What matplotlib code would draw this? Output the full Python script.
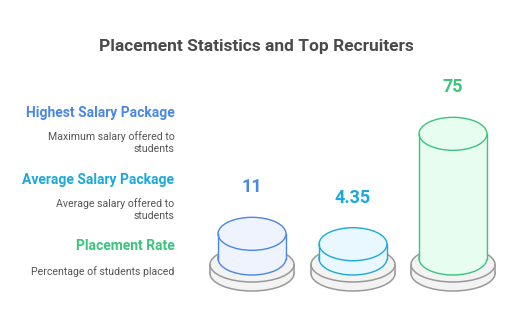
import matplotlib
matplotlib.use("Agg")
import matplotlib.pyplot as plt
from matplotlib.patches import Ellipse, Rectangle

# ---------------------------------------------------------------- data
TITLE = "Placement Statistics and Top Recruiters"
HEADINGS = ["Highest Salary Package", "Average Salary Package", "Placement Rate"]
DESCRIPTIONS = ["Maximum salary offered to\nstudents",
                "Average salary offered to\nstudents",
                "Percentage of students placed"]
VALUES = [11, 4.35, 75]
VALUE_LABELS = ["11", "4.35", "75"]

EDGE_COLORS = ["#4a86e8", "#1ba8dd", "#3cc47c"]
FILL_COLORS = ["#eef3fe", "#e8f8fe", "#e6fdf0"]

plt.rcParams["font.family"] = ["Roboto", "DejaVu Sans"]

W, H = 512, 315
fig = plt.figure(figsize=(W / 100, H / 100), dpi=100)
ax = fig.add_axes([0, 0, 1, 1])
ax.set_xlim(0, W)
ax.set_ylim(H, 0)
ax.axis("off")

# layout (pixel units)
CYL_X = [252, 353, 453]
CYL_HALF_W = 34
CYL_HALF_H = 16.5
CYL_BOTTOM = 258.5
PX_PER_UNIT = 1.5625
MIN_BODY = 7.5
BASE_HALF_W = 42
BASE_HALF_H = 17.5
BASE_TOP = 264.5
BASE_THICK = 9


def cylinder(cx, y_top, y_bot, hw, hh, face, edge, lw=1.0):
    ax.add_patch(Ellipse((cx, y_bot), 2 * hw, 2 * hh, facecolor=face, edgecolor=edge, lw=lw))
    ax.add_patch(Rectangle((cx - hw, y_top), 2 * hw, y_bot - y_top, facecolor=face, edgecolor="none"))
    ax.plot([cx - hw, cx - hw], [y_top, y_bot], color=edge, lw=lw)
    ax.plot([cx + hw, cx + hw], [y_top, y_bot], color=edge, lw=lw)
    ax.add_patch(Ellipse((cx, y_top), 2 * hw, 2 * hh, facecolor=face, edgecolor=edge, lw=lw))


for cx, v, lab, ec, fc in zip(CYL_X, VALUES, VALUE_LABELS, EDGE_COLORS, FILL_COLORS):
    # base disk
    cylinder(cx, BASE_TOP, BASE_TOP + BASE_THICK, BASE_HALF_W, BASE_HALF_H, "#f3f3f3", "#999999", lw=1.1)
    # value cylinder
    top = CYL_BOTTOM - (MIN_BODY + PX_PER_UNIT * v)
    cylinder(cx, top, CYL_BOTTOM, CYL_HALF_W, CYL_HALF_H, fc, ec, lw=1.0)
    ax.text(cx, top - CYL_HALF_H - 30, lab, ha="center", va="center", color=ec,
            fontsize=13, fontweight="bold")

# title
ax.text(256, 46, TITLE, ha="center", va="center", color="#4a4a4a", fontsize=12.5, fontweight="bold")

# left side legend text
HEAD_Y = [113, 180, 246]
DESC_Y = [142.5, 209.5, 272]
for head, desc, hy, dy, ec in zip(HEADINGS, DESCRIPTIONS, HEAD_Y, DESC_Y, EDGE_COLORS):
    ax.text(174.5, hy, head, ha="right", va="center", color=ec, fontsize=10, fontweight="bold")
    ax.text(174.5, dy, desc, ha="right", va="center", color="#555555", fontsize=7.6,
            linespacing=1.3, multialignment="right")

fig.savefig("out.png", dpi=100)
